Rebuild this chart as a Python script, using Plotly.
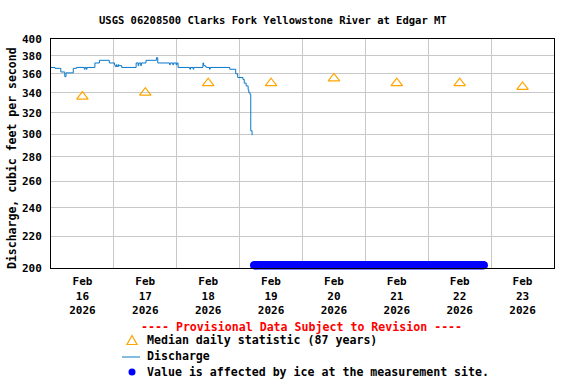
import math
import pandas as pd
import plotly.graph_objects as go

# ---------------- data ----------------
chart_title = "USGS 06208500 Clarks Fork Yellowstone River at Edgar MT"
y_title = "Discharge, cubic feet per second"
provisional_text = "---- Provisional Data Subject to Revision ----"
legend_labels = ["Median daily statistic (87 years)", "Discharge",
                 "Value is affected by ice at the measurement site."]

median_dates = ["2026-02-16 12:00", "2026-02-17 12:00", "2026-02-18 12:00",
                "2026-02-19 12:00", "2026-02-20 12:00", "2026-02-21 12:00",
                "2026-02-22 12:00", "2026-02-23 12:00"]
median_values = [336, 340, 350, 350, 355, 350, 350, 346]

discharge_times = [
    "2026-02-16 00:00", "2026-02-16 01:30", "2026-02-16 03:45", "2026-02-16 05:15",
    "2026-02-16 05:45", "2026-02-16 08:30", "2026-02-16 09:45", "2026-02-16 12:45",
    "2026-02-16 13:00", "2026-02-16 13:30", "2026-02-16 13:45", "2026-02-16 16:45",
    "2026-02-16 18:30", "2026-02-16 22:15", "2026-02-17 00:15", "2026-02-17 00:30",
    "2026-02-17 01:00", "2026-02-17 01:15", "2026-02-17 01:45", "2026-02-17 02:00",
    "2026-02-17 03:00", "2026-02-17 08:30", "2026-02-17 09:15", "2026-02-17 09:30",
    "2026-02-17 10:15", "2026-02-17 10:30", "2026-02-17 12:15", "2026-02-17 16:15",
    "2026-02-17 16:45", "2026-02-17 21:15", "2026-02-17 21:30", "2026-02-17 22:30",
    "2026-02-17 22:45", "2026-02-17 23:45", "2026-02-18 00:00", "2026-02-18 00:30",
    "2026-02-18 05:00", "2026-02-18 05:15", "2026-02-18 06:15", "2026-02-18 06:30",
    "2026-02-18 10:00", "2026-02-18 10:15", "2026-02-18 11:00", "2026-02-18 11:15",
    "2026-02-18 12:30", "2026-02-18 12:45", "2026-02-18 20:15", "2026-02-18 22:30",
    "2026-02-18 23:15", "2026-02-19 01:15", "2026-02-19 01:45", "2026-02-19 02:30",
    "2026-02-19 03:15", "2026-02-19 03:30", "2026-02-19 04:00", "2026-02-19 04:15",
    "2026-02-19 04:45",
]
discharge_values = [
    367, 366, 362, 357,
    361, 366, 367, 365,
    367, 365, 367, 372,
    375, 372, 370, 368,
    370, 368, 370, 369,
    367, 372, 369, 372,
    369, 372, 375, 378,
    372, 370, 372, 370,
    372, 370, 372, 367,
    365, 367, 365, 367,
    372, 369, 368, 367,
    365, 367, 365, 360,
    356, 354, 350, 347,
    343, 340, 338, 303,
    299,
]

ice_start = "2026-02-19 05:30"
ice_end = "2026-02-22 21:15"
ice_value = 201.6

y_ticks = [200, 220, 240, 260, 280, 300, 320, 340, 360, 380, 400]
x_range = ["2026-02-16", "2026-02-24"]

# ---------------- layout helpers ----------------
W, H = 576, 384
L, R, T, B = 51, 22, 39, 116
PW, PH = W - L - R, H - T - B


def px(x):
    return (x - L) / PW


def py(y):
    return (H - B - y) / PH


FONT = "DejaVu Sans Mono"
LINE_COLOR = "#0a78c8"
MED_COLOR = "#ffa500"
ICE_COLOR = "#0000ff"

ice_times = pd.date_range(ice_start, ice_end, freq="15min")

fig = go.Figure()
fig.add_trace(go.Scatter(
    x=discharge_times, y=discharge_values, mode="lines",
    line=dict(color=LINE_COLOR, width=1, shape="hv"), showlegend=False))
fig.add_trace(go.Scatter(
    x=median_dates, y=median_values, mode="markers",
    marker=dict(symbol="triangle-up-open", size=10, color=MED_COLOR,
                line=dict(color=MED_COLOR, width=1.2)), showlegend=False))
fig.add_trace(go.Scatter(
    x=ice_times, y=[ice_value] * len(ice_times), mode="markers",
    marker=dict(symbol="circle", size=8, color=ICE_COLOR, line=dict(width=0)),
    cliponaxis=False, showlegend=False))

bold = dict(family=FONT, size=11, color="black", weight="bold")

fig.update_layout(
    width=W, height=H,
    margin=dict(l=L, r=R, t=T, b=B),
    plot_bgcolor="white", paper_bgcolor="white",
    font=bold,
    showlegend=False,
    xaxis=dict(
        type="date", range=x_range, dtick=86400000, tick0="2026-02-16",
        ticklabelmode="period", tickformat="%b<br>%d<br>%Y",
        showgrid=True, gridcolor="#c8c8c8", gridwidth=1,
        showline=True, linecolor="black", linewidth=1, mirror=True,
        ticks="", ticklabelstandoff=3, tickfont=bold, zeroline=False,
    ),
    yaxis=dict(
        type="log", range=[math.log10(y_ticks[0]), math.log10(y_ticks[-1])],
        tickvals=y_ticks, ticktext=[str(v) for v in y_ticks],
        showgrid=True, gridcolor="#c8c8c8", gridwidth=1,
        showline=True, linecolor="black", linewidth=1, mirror=True,
        ticks="", ticklabelstandoff=6, tickfont=bold, zeroline=False,
    ),
)

ann = []
ann.append(dict(text=chart_title, x=px(273), y=py(20), xref="paper", yref="paper",
                showarrow=False, xanchor="center", yanchor="middle",
                font=dict(family=FONT, size=10.5, color="black", weight="bold")))
ann.append(dict(text=y_title, x=px(12), y=py(158), xref="paper", yref="paper",
                showarrow=False, textangle=-90, xanchor="center", yanchor="middle",
                font=dict(family=FONT, size=11.5, color="black", weight="bold")))
ann.append(dict(text=provisional_text, x=px(301), y=py(327), xref="paper", yref="paper",
                showarrow=False, xanchor="center", yanchor="middle",
                font=dict(family=FONT, size=11.6, color="#ff0000", weight="bold")))
for lbl, yy in zip(legend_labels, [340, 356, 372]):
    ann.append(dict(text=lbl, x=px(145), y=py(yy), xref="paper", yref="paper",
                    showarrow=False, xanchor="left", yanchor="middle",
                    font=dict(family=FONT, size=11.6, color="black", weight="bold")))
fig.update_layout(annotations=ann)

shapes = []
# legend triangle
tri = f"M {px(127)} {py(344.5)} L {px(137)} {py(344.5)} L {px(132)} {py(335.5)} Z"
shapes.append(dict(type="path", path=tri, xref="paper", yref="paper",
                   line=dict(color=MED_COLOR, width=1.2)))
# legend line
shapes.append(dict(type="line", x0=px(122), x1=px(140), y0=py(357), y1=py(357),
                   xref="paper", yref="paper", line=dict(color=LINE_COLOR, width=1)))
# legend dot
shapes.append(dict(type="circle", x0=px(128.5), x1=px(135.5), y0=py(368.5), y1=py(375.5),
                   xref="paper", yref="paper", fillcolor=ICE_COLOR,
                   line=dict(color=ICE_COLOR, width=0)))
fig.update_layout(shapes=shapes)

fig.write_html("out.html", config={"displayModeBar": False},
               post_script="document.body.style.margin='0px';document.body.style.padding='0px';")
